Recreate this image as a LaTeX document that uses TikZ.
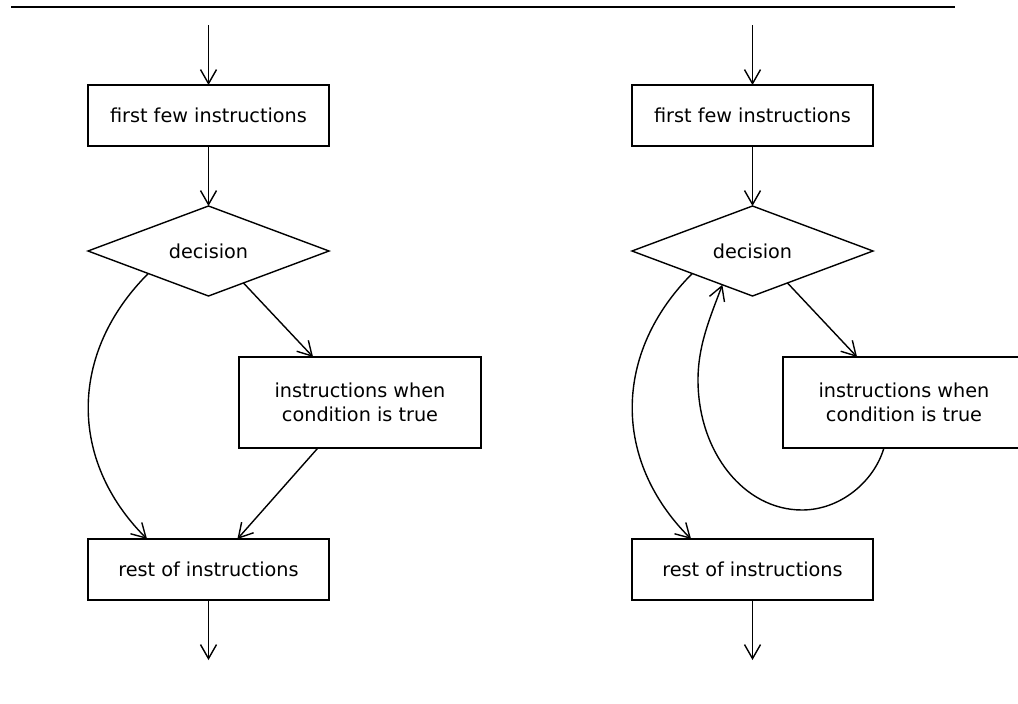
\documentclass[tikz,border=0pt]{standalone}
\usepackage{fontspec}
\setmainfont{DejaVu Sans}
\usetikzlibrary{shapes.geometric,arrows.meta,calc}
\begin{document}
\begin{tikzpicture}[x=1pt,y=-1pt,
  every node/.style={font=\fontsize{19.25}{23.5}\selectfont},
  lw/.style={line width=1.4pt},
  boxa/.style={draw,lw,minimum width=241pt,minimum height=61pt,inner sep=0pt,outer sep=0pt,align=center},
  boxb/.style={draw,lw,minimum width=242pt,minimum height=91pt,inner sep=0pt,outer sep=0pt,align=center},
  dec/.style={draw,lw,diamond,aspect=2.67,minimum width=241pt,minimum height=90pt,inner sep=0pt,outer sep=0pt},
  arr/.style={lw,-{Straight Barb[length=14pt,width=16pt]}},
  topline/.style={line width=2.5pt}]
\useasboundingbox (0,0) rectangle (1018,704);
\clip (0,0) rectangle (1018,704);
\coordinate (l1) at (11,7);
\coordinate (l2) at (955,7);
\draw[topline] (l1) -- (l2);

% ---------- left chart ----------
\coordinate (As) at (208.5,25);
\node[boxa] (A1) at (208.5,115.5) {first few instructions};
\node[dec] (A2) at (208.5,251) {decision};
\node[boxb] (A3) at (360,402.5) {instructions when\\condition is true};
\node[boxa] (A4) at (208.5,569.5) {rest of instructions};
\coordinate (Ae) at (208.5,660);
\draw[arr] (As) -- (A1.north);
\draw[arr] (A1.south) -- (A2.north);
\draw[arr] ($(A2.south)!0.29!(A2.east)$) -- ($(A3.north west)!0.306!(A3.north east)$);
\draw[arr] ($(A2.west)!0.5!(A2.south)$) .. controls +(-79,79) and +(-79,-79) .. ($(A4.north west)!0.245!(A4.north east)$);
\draw[arr] ($(A3.south west)!0.326!(A3.south east)$) -- ($(A4.north west)!0.62!(A4.north east)$);
\draw[arr] (A4.south) -- (Ae);

% ---------- right chart ----------
\coordinate (Bs) at (752.5,25);
\node[boxa] (B1) at (752.5,115.5) {first few instructions};
\node[dec] (B2) at (752.5,251) {decision};
\node[boxb] (B3) at (904,402.5) {instructions when\\condition is true};
\node[boxa] (B4) at (752.5,569.5) {rest of instructions};
\coordinate (Be) at (752.5,660);
\coordinate (Lb) at (802,510);
\coordinate (Ll) at (698,380);
\draw[arr] (Bs) -- (B1.north);
\draw[arr] (B1.south) -- (B2.north);
\draw[arr] ($(B2.south)!0.29!(B2.east)$) -- ($(B3.north west)!0.306!(B3.north east)$);
\draw[arr] ($(B2.west)!0.5!(B2.south)$) .. controls +(-79,79) and +(-79,-79) .. ($(B4.north west)!0.245!(B4.north east)$);
\draw[arr] ($(B3.south west)!0.417!(B3.south east)$) .. controls +(-10,34) and +(38,0) .. (Lb)
  .. controls +(-58,0) and +(0,72) .. (Ll)
  .. controls +(0,-35) and +(-12,32) .. ($(B2.west)!0.75!(B2.south)$);
\draw[arr] (B4.south) -- (Be);
\end{tikzpicture}
\end{document}
